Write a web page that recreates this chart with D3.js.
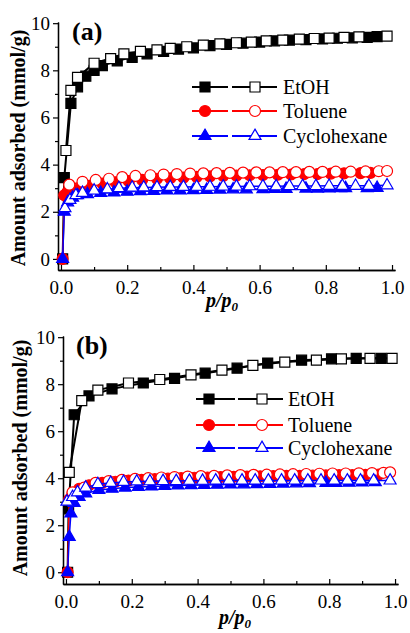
<!DOCTYPE html>
<html>
<head>
<meta charset="utf-8">
<script src="https://cdn.jsdelivr.net/npm/d3@7"></script>
<style>
body { margin: 0; background: #fff; }
svg text { font-family: "Liberation Serif", "Times New Roman", serif !important; fill: #000; }
</style>
</head>
<body>
<div id="chart"></div>
<script>
// panel (a)
const aEtohAdsP = [0.005, 0.01, 0.03, 0.05, 0.075, 0.1, 0.125, 0.17, 0.215, 0.26, 0.31, 0.355, 0.40, 0.45, 0.50, 0.55, 0.60, 0.645, 0.69, 0.74, 0.79, 0.835, 0.88, 0.925, 0.955];
const aEtohAdsV = [0, 3.45, 6.6, 7.3, 7.75, 8.0, 8.2, 8.4, 8.55, 8.7, 8.8, 8.9, 8.95, 9.05, 9.1, 9.15, 9.2, 9.25, 9.28, 9.3, 9.33, 9.36, 9.38, 9.4, 9.43];
const aEtohDesP = [0.015, 0.03, 0.05, 0.1, 0.15, 0.19, 0.24, 0.29, 0.33, 0.38, 0.43, 0.48, 0.53, 0.575, 0.62, 0.67, 0.72, 0.765, 0.81, 0.855, 0.90, 0.985];
const aEtohDesV = [4.6, 7.15, 7.7, 8.3, 8.5, 8.7, 8.8, 8.87, 8.93, 9.0, 9.07, 9.12, 9.17, 9.2, 9.25, 9.28, 9.32, 9.35, 9.37, 9.4, 9.42, 9.45];

const aTolAdsP = [0.005, 0.01, 0.02, 0.04, 0.065, 0.085, 0.125, 0.165, 0.205, 0.245, 0.29, 0.33, 0.37, 0.41, 0.45, 0.49, 0.53, 0.57, 0.61, 0.655, 0.695, 0.735, 0.775, 0.815, 0.855, 0.905, 0.935];
const aTolAdsV = [0, 2.7, 2.85, 2.95, 3.05, 3.1, 3.2, 3.25, 3.3, 3.35, 3.4, 3.42, 3.45, 3.48, 3.5, 3.52, 3.53, 3.55, 3.56, 3.57, 3.58, 3.6, 3.6, 3.62, 3.63, 3.64, 3.65];
const aTolDesP = [0.025, 0.065, 0.105, 0.145, 0.185, 0.225, 0.27, 0.31, 0.35, 0.39, 0.43, 0.47, 0.51, 0.55, 0.59, 0.63, 0.67, 0.71, 0.75, 0.79, 0.83, 0.875, 0.92, 0.96, 0.985];
const aTolDesV = [3.15, 3.27, 3.35, 3.4, 3.47, 3.52, 3.55, 3.58, 3.6, 3.62, 3.63, 3.64, 3.65, 3.66, 3.67, 3.67, 3.68, 3.68, 3.69, 3.69, 3.7, 3.7, 3.71, 3.72, 3.73];

const aCyAdsP = [0.005, 0.01, 0.02, 0.035, 0.05, 0.08, 0.12, 0.16, 0.2, 0.24, 0.28, 0.32, 0.36, 0.40, 0.44, 0.48, 0.52, 0.56, 0.61, 0.645, 0.68, 0.74, 0.775, 0.81, 0.845, 0.86, 0.925, 0.955];
const aCyAdsV = [0, 2.0, 2.4, 2.6, 2.7, 2.75, 2.8, 2.82, 2.85, 2.87, 2.88, 2.9, 2.9, 2.92, 2.93, 2.94, 2.95, 2.95, 2.96, 2.97, 2.97, 2.98, 2.98, 2.99, 3.0, 3.0, 3.0, 3.01];
const aCyDesP = [0.012, 0.027, 0.045, 0.065, 0.1, 0.14, 0.175, 0.215, 0.25, 0.29, 0.33, 0.37, 0.41, 0.45, 0.49, 0.53, 0.57, 0.61, 0.65, 0.69, 0.73, 0.77, 0.81, 0.85, 0.89, 0.93, 0.985];
const aCyDesV = [2.15, 2.5, 2.7, 2.8, 2.9, 2.95, 3.0, 3.02, 3.03, 3.04, 3.05, 3.05, 3.06, 3.06, 3.07, 3.07, 3.08, 3.08, 3.08, 3.09, 3.09, 3.09, 3.1, 3.1, 3.1, 3.1, 3.12];

// panel (b)
const bEtohAdsP = [0.005, 0.008, 0.025, 0.07, 0.14, 0.235, 0.33, 0.423, 0.52, 0.613, 0.716, 0.807, 0.882, 0.958];
const bEtohAdsV = [0, 2.7, 6.7, 7.5, 7.8, 8.05, 8.25, 8.47, 8.68, 8.9, 9.02, 9.08, 9.1, 9.1];
const bEtohDesP = [0.01, 0.048, 0.097, 0.19, 0.285, 0.38, 0.474, 0.568, 0.665, 0.761, 0.837, 0.924, 0.991];
const bEtohDesV = [4.25, 7.3, 7.75, 8.05, 8.2, 8.4, 8.6, 8.8, 8.94, 9.02, 9.08, 9.1, 9.1];

const bTolAdsP = [0.005, 0.01, 0.02, 0.04, 0.07, 0.11, 0.15, 0.19, 0.23, 0.27, 0.31, 0.35, 0.39, 0.43, 0.47, 0.51, 0.55, 0.59, 0.63, 0.67, 0.71, 0.75, 0.79, 0.83, 0.87, 0.91, 0.95];
const bTolAdsV = [0, 3.1, 3.35, 3.55, 3.7, 3.8, 3.85, 3.9, 3.93, 3.96, 3.98, 4.0, 4.02, 4.03, 4.05, 4.06, 4.07, 4.08, 4.09, 4.1, 4.1, 4.11, 4.12, 4.13, 4.13, 4.14, 4.15];
const bTolDesP = [0.02, 0.055, 0.09, 0.13, 0.17, 0.21, 0.25, 0.29, 0.33, 0.37, 0.41, 0.45, 0.49, 0.53, 0.57, 0.61, 0.65, 0.69, 0.73, 0.77, 0.81, 0.85, 0.89, 0.93, 0.965, 0.985];
const bTolDesV = [3.4, 3.6, 3.8, 3.88, 3.93, 3.97, 4.0, 4.03, 4.05, 4.07, 4.09, 4.1, 4.12, 4.13, 4.14, 4.15, 4.16, 4.17, 4.18, 4.19, 4.2, 4.2, 4.21, 4.22, 4.23, 4.25];

const bCyAdsP = [0.005, 0.01, 0.015, 0.025, 0.04, 0.06, 0.1, 0.14, 0.18, 0.22, 0.26, 0.3, 0.34, 0.38, 0.42, 0.46, 0.5, 0.54, 0.58, 0.62, 0.66, 0.7, 0.74, 0.79, 0.82, 0.86, 0.9, 0.94];
const bCyAdsV = [0, 1.5, 2.5, 2.95, 3.2, 3.35, 3.5, 3.55, 3.6, 3.63, 3.65, 3.67, 3.69, 3.7, 3.71, 3.72, 3.73, 3.74, 3.75, 3.76, 3.77, 3.78, 3.79, 3.8, 3.8, 3.81, 3.82, 3.83];
const bCyDesP = [0.003, 0.02, 0.035, 0.06, 0.097, 0.136, 0.175, 0.215, 0.255, 0.295, 0.335, 0.375, 0.415, 0.455, 0.495, 0.535, 0.575, 0.615, 0.655, 0.695, 0.735, 0.775, 0.815, 0.855, 0.895, 0.935, 0.985];
const bCyDesV = [3.0, 3.2, 3.4, 3.6, 3.75, 3.8, 3.84, 3.86, 3.87, 3.88, 3.88, 3.89, 3.89, 3.9, 3.9, 3.9, 3.9, 3.9, 3.9, 3.9, 3.9, 3.9, 3.9, 3.9, 3.9, 3.9, 3.9];

const names = ["EtOH", "Toluene", "Cyclohexane"];
const colors = ["#000000", "#ff0000", "#0000ff"];
const symbols = [d3.symbolSquare, d3.symbolCircle, d3.symbolTriangle];
const symSize = [100, 95, 62];
const xMajor = [0, 0.2, 0.4, 0.6, 0.8, 1.0];
const xMinor = [0.1, 0.3, 0.5, 0.7, 0.9];
const yMajor = [0, 2, 4, 6, 8, 10];
const yMinor = [1, 3, 5, 7, 9];

const w = 410;
const h = 633;
const serif = "'Liberation Serif', 'Times New Roman', serif";

const zip = (p, v) => p.map((d, i) => [d, v[i]]);

const svg = d3.select("#chart")
                .append("svg")
                .attr("width", w)
                .attr("height", h)
                .style("font-family", serif);

svg.append("rect").attr("width", w).attr("height", h).attr("fill", "#fff");

const drawPanel = (cfg) => {
    const xScale = d3.scaleLinear().domain([-0.009, 1.009]).range(cfg.xr);
    const yScale = d3.scaleLinear().domain(cfg.yd).range(cfg.yr);
    const g = svg.append("g");

    // axes
    g.append("g")
        .attr("transform", `translate(0, ${cfg.yr[0]})`)
        .call(d3.axisBottom(xScale).tickValues(xMajor).tickSize(-5).tickSizeOuter(0).tickPadding(11).tickFormat(d3.format(".1f")));
    g.append("g")
        .attr("transform", `translate(0, ${cfg.yr[0]})`)
        .call(d3.axisBottom(xScale).tickValues(xMinor).tickSize(-3).tickSizeOuter(0).tickFormat(""));
    g.append("g")
        .attr("transform", `translate(${cfg.xr[0]}, 0)`)
        .call(d3.axisLeft(yScale).tickValues(yMajor).tickSize(5).tickSizeOuter(0).tickPadding(3));
    g.append("g")
        .attr("transform", `translate(${cfg.xr[0]}, 0)`)
        .call(d3.axisLeft(yScale).tickValues(yMinor).tickSize(3).tickSizeOuter(0).tickFormat(""));

    g.selectAll(".domain").attr("stroke-width", 1.3);
    g.selectAll(".tick line").attr("stroke-width", 1.2);
    g.selectAll("g[font-family]").attr("font-family", null);
    g.selectAll(".tick text").attr("font-size", 19).style("font-family", serif);

    // series
    cfg.data.forEach((s, k) => {
        const line = d3.line().x(d => xScale(d[0])).y(d => yScale(d[1]));
        const sym = d3.symbol().type(symbols[k]).size(symSize[k]);
        [s.ads, s.des].forEach((pts, j) => {
            g.append("path")
                .datum(pts)
                .attr("d", line)
                .attr("fill", "none")
                .attr("stroke", colors[k])
                .attr("stroke-width", k === 0 ? 2 : 1.5);
            g.selectAll(null)
                .data(pts)
                .enter()
                .append("path")
                .attr("d", sym)
                .attr("transform", d => `translate(${xScale(d[0])}, ${yScale(d[1])})`)
                .attr("fill", j === 0 ? colors[k] : "#fff")
                .attr("stroke", colors[k])
                .attr("stroke-width", 1.2);
        });
    });

    // legend
    names.forEach((n, k) => {
        const y = cfg.leg.y[k];
        const sym = d3.symbol().type(symbols[k]).size(symSize[k]);
        const lg = g.append("g");
        lg.append("line").attr("x1", cfg.leg.x1[0]).attr("x2", cfg.leg.x1[1]).attr("y1", y).attr("y2", y)
            .attr("stroke", colors[k]).attr("stroke-width", 2);
        lg.append("line").attr("x1", cfg.leg.x2[0]).attr("x2", cfg.leg.x2[1]).attr("y1", y).attr("y2", y)
            .attr("stroke", colors[k]).attr("stroke-width", 2);
        lg.append("path").attr("d", sym).attr("transform", `translate(${cfg.leg.m1}, ${y})`)
            .attr("fill", colors[k]).attr("stroke", colors[k]).attr("stroke-width", 1.2);
        lg.append("path").attr("d", sym).attr("transform", `translate(${cfg.leg.m2}, ${y})`)
            .attr("fill", "#fff").attr("stroke", colors[k]).attr("stroke-width", 1.2);
        lg.append("text").text(n).attr("x", cfg.leg.tx).attr("y", y + 7).attr("font-size", 20);
    });

    // labels
    g.append("text")
        .text(cfg.tag)
        .attr("x", cfg.tagPos[0])
        .attr("y", cfg.tagPos[1])
        .attr("font-size", 26)
        .attr("font-weight", "bold");

    g.append("text")
        .text("Amount adsorbed (mmol/g)")
        .attr("text-anchor", "middle")
        .attr("transform", `translate(${cfg.ylab[0]}, ${cfg.ylab[1]}) rotate(-90)`)
        .attr("font-size", 20)
        .attr("font-weight", "bold");

    const xl = g.append("text")
        .attr("x", cfg.xlab[0])
        .attr("y", cfg.xlab[1])
        .attr("font-size", 20)
        .attr("font-weight", "bold")
        .attr("font-style", "italic");
    xl.append("tspan").text("p/p");
    xl.append("tspan").text("0").attr("font-size", 13).attr("dy", 4);
};

drawPanel({
    xr: [58, 395], yr: [270, 22], yd: [-0.47, 10.05],
    tag: "(a)", tagPos: [72, 40], ylab: [25, 148], xlab: [206, 307],
    leg: { y: [87, 111, 136], x1: [192, 228], x2: [232, 277], m1: 205, m2: 255, tx: 283 },
    data: [
        { ads: zip(aEtohAdsP, aEtohAdsV), des: zip(aEtohDesP, aEtohDesV) },
        { ads: zip(aTolAdsP, aTolAdsV), des: zip(aTolDesP, aTolDesV) },
        { ads: zip(aCyAdsP, aCyAdsV), des: zip(aCyDesP, aCyDesV) }
    ]
});

drawPanel({
    xr: [63, 398], yr: [584, 336], yd: [-0.5, 10.05],
    tag: "(b)", tagPos: [76, 354], ylab: [27, 458], xlab: [219, 624],
    leg: { y: [399, 425, 448], x1: [196, 235], x2: [238, 283], m1: 209, m2: 262, tx: 288 },
    data: [
        { ads: zip(bEtohAdsP, bEtohAdsV), des: zip(bEtohDesP, bEtohDesV) },
        { ads: zip(bTolAdsP, bTolAdsV), des: zip(bTolDesP, bTolDesV) },
        { ads: zip(bCyAdsP, bCyAdsV), des: zip(bCyDesP, bCyDesV) }
    ]
});
</script>
</body>
</html>
